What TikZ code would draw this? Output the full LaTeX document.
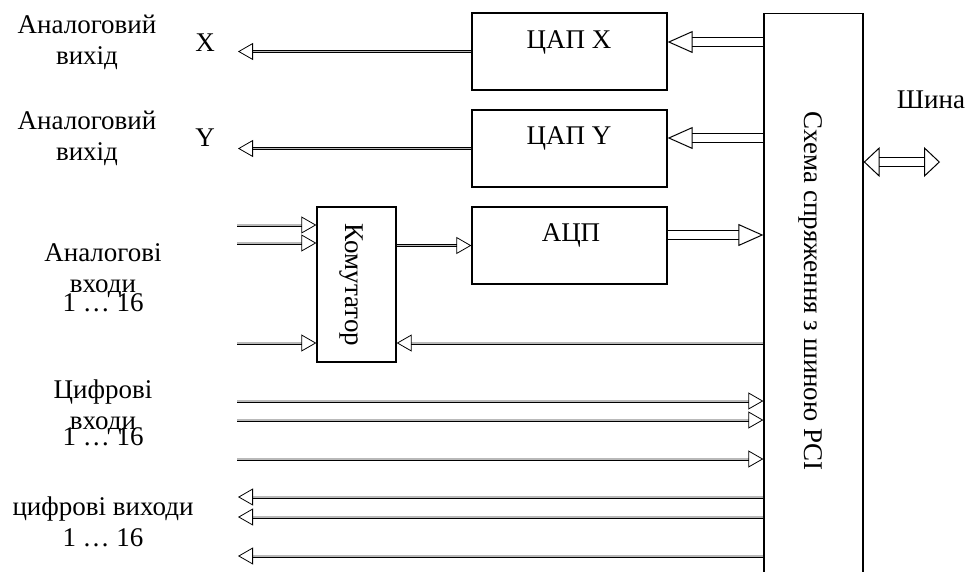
\documentclass[tikz,border=0pt]{standalone}
\usepackage{fontspec}
\setmainfont{Liberation Serif}
\usetikzlibrary{arrows.meta}

\tikzset{
  blk/.style={draw, line width=1.3pt, minimum width=195pt, minimum height=77pt, inner sep=0pt},
  sig/.style={double=gray!55, double distance=1.4pt, line width=0.8pt,
              -{Triangle[open, length=15pt, width=17pt]}},
  bus/.style={double, double distance=8pt, line width=1pt,
              -{Triangle[open, length=25pt, width=22pt]}},
  lbl/.style={align=center, inner sep=0pt}
}

\begin{document}
\begin{tikzpicture}[x=1pt, y=-1pt, font=\fontsize{27}{31}\selectfont]
  \useasboundingbox (0,0) rectangle (973,571);

  %--- Blocks --------------------------------------------------------------
  \node (dacx) [blk] at (569.5,51.5) {};
  \node (dacy) [blk] at (569.5,148.5) {};
  \node (adc)  [blk] at (569.5,245.5) {};
  \node (mux)  [blk, minimum width=79pt, minimum height=155pt] at (356.5,284.5) {};
  \node (pci)  [blk, minimum width=99pt, minimum height=620pt, anchor=north] at (813.5,13) {};

  \node (dacxt) [lbl] at (569,42)  {ЦАП X};
  \node (dacyt) [lbl] at (569,138) {ЦАП Y};
  \node (adct)  [lbl] at (571,235) {АЦП};
  \node (muxt)  [lbl, rotate=-90] at (351,285) {Комутатор};
  \node (pcit)  [lbl, rotate=-90] at (811,291) {Схема спряження з шиною PCI};

  %--- Left labels ---------------------------------------------------------
  \node (aox)  [lbl] at (87,42)   {Аналоговий\\вихід};
  \node (aoy)  [lbl] at (87,138)  {Аналоговий\\вихід};
  \node (xl)   [lbl] at (205,43)  {X};
  \node (yl)   [lbl] at (205,138) {Y};
  \node (ain)  [lbl] at (103,271) {Аналогові\\входи};
  \node (ainn) [lbl] at (103,303) {1 \dots\ 16};
  \node (din)  [lbl] at (103,407) {Цифрові\\входи};
  \node (dinn) [lbl] at (103,437) {1 \dots\ 16};
  \node (dout) [lbl] at (103,522) {цифрові виходи\\1 \dots\ 16};
  \node (bus)  [lbl] at (931,100) {Шина};

  %--- Free ends -----------------------------------------------------------
  \coordinate (ox) at (238,51.5);
  \coordinate (oy) at (238,148.5);
  \coordinate (a1) at (237,225);
  \coordinate (a2) at (237,243);
  \coordinate (a3) at (237,343);
  \foreach \i/\yy in {1/401, 2/420, 3/459}
    \coordinate (d\i) at (237,\yy);
  \foreach \i/\yy in {1/497, 2/517, 3/556}
    \coordinate (q\i) at (238,\yy);
  \coordinate (sh) at (940,162);

  %--- Analog outputs ------------------------------------------------------
  \draw[sig] (dacx.west) -- (ox);
  \draw[sig] (dacy.west) -- (oy);

  %--- Multiplexer ---------------------------------------------------------
  \foreach \c in {a1, a2, a3}
    \draw[sig] (\c) -- (\c -| mux.west);
  \draw[sig] (mux.east |- adc.west) -- (adc.west);
  \draw[sig] (a3 -| pci.west) -- (a3 -| mux.east);

  %--- Digital lines -------------------------------------------------------
  \foreach \i in {1,2,3} {
    \draw[sig] (d\i) -- (d\i -| pci.west);
    \draw[sig] (q\i -| pci.west) -- (q\i);
  }

  %--- Buses ---------------------------------------------------------------
  \draw[bus] (pci.west |- 0,42)  -- (dacx.east |- 0,42);
  \draw[bus] (pci.west |- 0,138) -- (dacy.east |- 0,138);
  \draw[bus] (adc.east |- 0,235) -- (pci.west |- 0,235);
  \draw[bus, {Triangle[open, length=16pt, width=30pt]}-{Triangle[open, length=16pt, width=30pt]}]
       (pci.east |- sh) -- (sh);

\end{tikzpicture}
\end{document}
